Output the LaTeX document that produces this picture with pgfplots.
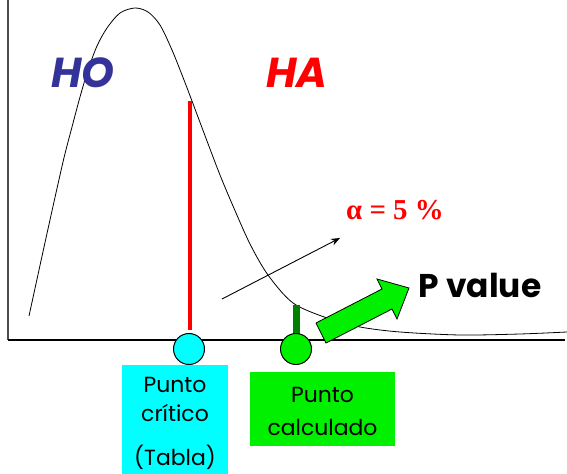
\documentclass[border=0pt]{standalone}
\usepackage{pgfplots}
\pgfplotsset{compat=1.18}
\usetikzlibrary{arrows.meta}
\usepackage{fontspec}
\setmainfont{Poppins}
\newfontfamily\timesf{Liberation Serif}
\definecolor{hoblue}{RGB}{51,51,153}
\definecolor{bgreen}{RGB}{0,240,0}
\definecolor{dgreen}{RGB}{0,128,0}
\definecolor{bcyan}{RGB}{0,255,255}
\begin{document}
\begin{tikzpicture}
\begin{axis}[name=ax, scale only axis, width=567bp, height=474bp,
  xmin=0, xmax=567, ymin=-474, ymax=0, hide axis, clip=false]
% axis lines
\addplot[gray!60!black, line width=1.2bp] coordinates {(8,0) (8,-340)};
\addplot[black, line width=1.2bp] coordinates {(8,-340) (565,-340)};
% distribution curve
\addplot[black, line width=0.8bp, smooth, tension=0.5] coordinates {
(29,-316) (46,-238) (63,-162) (72,-127) (80,-97) (88,-70) (97,-46) (107,-28)
(120,-13) (135,-8) (148,-12) (160,-25) (172,-50) (184,-80) (195,-109)
(207,-141) (220,-175) (233,-206) (250,-244) (268,-275) (293,-303) (327,-318)
(360,-327) (400,-332) (460,-335) (520,-334) (567,-332)};
% critical and computed lines
\addplot[red, line width=4bp] coordinates {(190,-101) (190,-330)};
\addplot[dgreen, line width=7bp] coordinates {(296,-305) (296,-334)};
% thin arrow
\addplot[black, line width=0.9bp, -{Stealth[length=9bp,width=7bp]}] coordinates {(222,-299) (340,-238)};
% block arrow
\addplot[fill=bgreen, draw=black, line width=0.8bp] coordinates {
(316,-323) (382,-289) (377,-279) (409,-288) (397,-319) (392,-309) (326,-343) (316,-323)};
% boxes
\node[fill=bcyan, minimum width=106bp, minimum height=109bp, inner sep=0pt] at (axis cs:175,-419.5) {};
\node[fill=bgreen, minimum width=145bp, minimum height=74bp, inner sep=0pt] at (axis cs:322.5,-409) {};
\node[font=\fontsize{22}{26}\selectfont] at (axis cs:175,-385) {Punto};
\node[font=\fontsize{22}{26}\selectfont] at (axis cs:175,-413) {crítico};
\node[font=\fontsize{22}{26}\selectfont] at (axis cs:175,-457) {(Tabla)};
\node[font=\fontsize{22}{26}\selectfont] at (axis cs:322.5,-395) {Punto};
\node[font=\fontsize{22}{26}\selectfont] at (axis cs:322.5,-427) {calculado};
% circles
\addplot[only marks, mark=*, mark size=15.5bp, mark options={fill=bcyan, draw=black, line width=1bp}] coordinates {(189,-349)};
\addplot[only marks, mark=*, mark size=15.5bp, mark options={fill=bgreen, draw=black, line width=1bp}] coordinates {(296,-349)};
% labels
\node[text=hoblue, font=\fontsize{42}{48}\selectfont\bfseries\itshape] at (axis cs:83,-73) {HO};
\node[text=red, font=\fontsize{42}{48}\selectfont\bfseries\itshape] at (axis cs:297,-73) {HA};
\node[text=red, font=\timesf\fontsize{29}{32}\selectfont\bfseries] at (axis cs:395,-210) {α = 5 \%};
\node[text=black, font=\fontsize{33}{38}\selectfont\bfseries] at (axis cs:480,-285) {P value};
\end{axis}
\pgfresetboundingbox
\path (ax.south west) rectangle (ax.north east);
\end{tikzpicture}
\end{document}
